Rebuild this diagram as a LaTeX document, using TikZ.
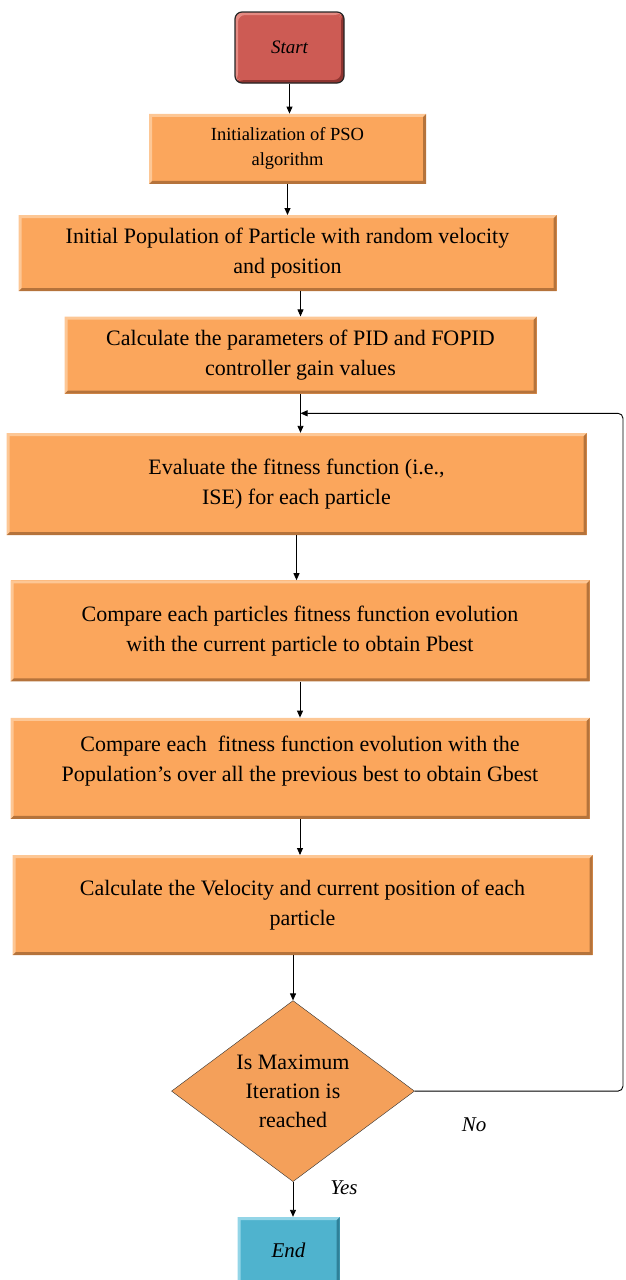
\documentclass[tikz,border=0pt]{standalone}
\usepackage{fontspec}
\setmainfont{Liberation Serif}
\usetikzlibrary{arrows.meta,positioning,shapes.geometric,calc}
\definecolor{startred}{HTML}{CD5B54}
\definecolor{startdark}{HTML}{8E3430}
\definecolor{startlight}{HTML}{E58A82}
\definecolor{psoorange}{HTML}{FBA65C}
\definecolor{psodark}{HTML}{B5733B}
\definecolor{psolight}{HTML}{FDC795}
\definecolor{checkorange}{HTML}{F4A05A}
\definecolor{endcyan}{HTML}{4FB3CE}
\definecolor{enddark}{HTML}{2F8199}
\definecolor{endlight}{HTML}{93D5E7}
\tikzset{
  bevel/.style 2 args={
    path picture={
      \fill[#1] (path picture bounding box.south west)
        -- (path picture bounding box.south east)
        -- (path picture bounding box.north east)
        -- ([xshift=-3pt,yshift=-3pt]path picture bounding box.north east)
        -- ([xshift=-3pt,yshift=3pt]path picture bounding box.south east)
        -- ([xshift=3pt,yshift=3pt]path picture bounding box.south west) -- cycle;
      \fill[#2] (path picture bounding box.south west)
        -- (path picture bounding box.north west)
        -- (path picture bounding box.north east)
        -- ([xshift=-3pt,yshift=-3pt]path picture bounding box.north east)
        -- ([xshift=3pt,yshift=-3pt]path picture bounding box.north west)
        -- ([xshift=3pt,yshift=3pt]path picture bounding box.south west) -- cycle;
    }
  },
  procbox/.style={
    fill=psoorange,
    bevel={psodark}{psolight},
    inner sep=0pt,
    align=center,
    font=\fontsize{22}{30}\selectfont
  },
  termbox/.style={
    fill=#1,
    inner sep=0pt,
    align=center,
    font=\fontsize{19}{24}\selectfont\itshape
  },
  decision/.style={
    diamond,
    draw=black!80,
    fill=checkorange,
    inner sep=0pt,
    aspect=1.34,
    align=center,
    font=\fontsize{22}{29}\selectfont
  },
  lbl/.style={font=\fontsize{21}{24}\selectfont\itshape},
  arrow/.style={-{Triangle[width=6pt,length=7pt]},draw=black,line width=0.9pt}
}
\begin{document}
\begin{tikzpicture}[x=1pt,y=-1pt,node distance=36pt]
  \useasboundingbox (0,0) rectangle (625,1280);

  \node[termbox=startred, draw=black!85, line width=1.2pt, rounded corners=7pt,
        bevel={startdark}{startlight}, minimum width=109pt, minimum height=71pt]
        (start) at (289.5,47.5) {Start};
  \node[procbox, font=\fontsize{18.5}{25}\selectfont, minimum width=277pt, minimum height=70pt,
        below=30pt of start, xshift=-2pt] (init) {Initialization of PSO\\algorithm};
  \node[procbox, minimum width=538pt, minimum height=76pt, below=31pt of init]
        (popl) {Initial Population of Particle with random velocity\\and position};
  \node[procbox, minimum width=472pt, minimum height=77pt, below=25pt of popl, xshift=13pt]
        (calc) {Calculate the parameters of PID and FOPID\\controller gain values};
  \node[procbox, minimum width=580pt, minimum height=102pt, below=39pt of calc, xshift=-4pt]
        (eval) {Evaluate the fitness function (i.e.,\\ISE) for each particle};
  \node[procbox, minimum width=579pt, minimum height=101pt, below=45pt of eval, xshift=3.5pt]
        (pbest) {Compare each particles fitness function evolution\\with the current particle to obtain Pbest};
  \node[procbox, minimum width=579pt, minimum height=101pt, below=of pbest]
        (gbest) {Compare each~ fitness function evolution with the\\Population’s over all the previous best to obtain Gbest\\[-10pt]};
  \node[procbox, minimum width=580pt, minimum height=100pt, below=of gbest, xshift=2.5pt]
        (veloc) {Calculate the Velocity and current position of each\\particle};
  \node[decision, minimum width=243pt, minimum height=181pt, below=45pt of veloc, xshift=-9.5pt]
        (check) {Is Maximum\\Iteration is\\reached};
  \node[termbox=endcyan, bevel={enddark}{endlight}, font=\fontsize{21}{24}\selectfont\itshape,
        minimum width=102pt, minimum height=67pt, below=35pt of check, xshift=-4.5pt] (end) {End};

  \node[lbl] (no) at (474,1125) {No};
  \node[lbl] (yes) at (344,1188) {Yes};

  \coordinate (rgt) at (623,0);
  \coordinate (merge) at ($(calc.south)!0.5!(calc.south |- eval.north)$);

  \draw[arrow] (start.south) -- (start.south |- init.north);
  \draw[arrow] (init.south) -- (init.south |- popl.north);
  \draw[arrow] (calc.north |- popl.south) -- (calc.north);
  \draw[arrow] (calc.south) -- (calc.south |- eval.north);
  \draw[arrow] (eval.south) -- (eval.south |- pbest.north);
  \draw[arrow] (pbest.south) -- (pbest.south |- gbest.north);
  \draw[arrow] (gbest.south) -- (gbest.south |- veloc.north);
  \draw[arrow] (check.north |- veloc.south) -- (check.north);
  \draw[arrow] (check.south) -- (check.south |- end.north);
  \draw[arrow, rounded corners=5pt] (check.east) -| (rgt |- merge) -- (merge);
\end{tikzpicture}
\end{document}
